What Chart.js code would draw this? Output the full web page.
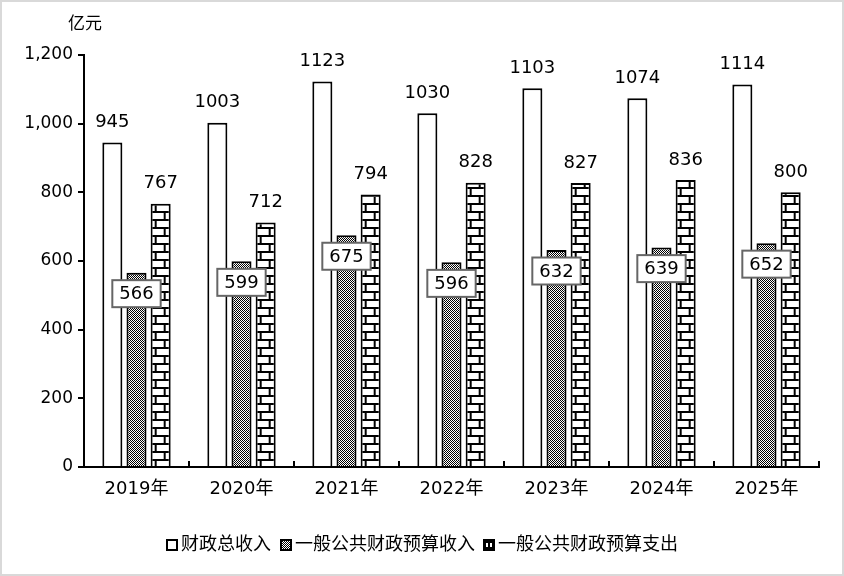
<!DOCTYPE html>
<html>
<head>
<meta charset="utf-8">
<script src="https://cdn.jsdelivr.net/npm/chart.js@4.4.1/dist/chart.umd.min.js"></script>
<style>
  html, body { margin: 0; padding: 0; background: #fff; }
  #wrap { position: relative; width: 844px; height: 576px; }
  #frame { position: absolute; left: 0; top: 0; width: 844px; height: 576px; box-sizing: border-box; border: 2px solid #d9d9d9; pointer-events: none; }
</style>
</head>
<body>
<div id="wrap">
  <canvas id="chart" width="844" height="576"></canvas>
  <div id="frame"></div>
</div>
<script>
// 数据
var categories = ['2019年', '2020年', '2021年', '2022年', '2023年', '2024年', '2025年'];
var totalRevenue = [945, 1003, 1123, 1030, 1103, 1074, 1114];
var budgetRevenue = [566, 599, 675, 596, 632, 639, 652];
var budgetExpenditure = [767, 712, 794, 828, 827, 836, 800];
var seriesNames = ['财政总收入', '一般公共财政预算收入', '一般公共财政预算支出'];
var unitLabel = '亿元';

var FONT = "'DejaVu Sans', 'Noto Sans CJK SC', sans-serif";
var CAT_PCT = 0.69;
var BAR_PCT = 0.83;

var ctx = document.getElementById('chart').getContext('2d');

function checkerPattern() {
    var c = document.createElement('canvas');
    c.width = 2; c.height = 2;
    var g = c.getContext('2d');
    g.fillStyle = '#fff';
    g.fillRect(0, 0, 2, 2);
    g.fillStyle = '#000';
    g.fillRect(0, 0, 1, 1);
    g.fillRect(1, 1, 1, 1);
    return ctx.createPattern(c, 'repeat');
}

function brickTile(w) {
    var c = document.createElement('canvas');
    c.width = w; c.height = 16;
    var g = c.getContext('2d');
    g.fillStyle = '#fff';
    g.fillRect(0, 0, w, 16);
    g.fillStyle = '#000';
    g.fillRect(0, 0, w, 2);
    g.fillRect(0, 8, w, 2);
    g.fillRect(Math.round(w * 0.7) - 1, 2, 2, 6);
    g.fillRect(Math.round(w * 0.25) - 1, 10, 2, 6);
    return c;
}

var checker = checkerPattern();
var brickCache = {};

function brickFor(context) {
    var chart = context.chart;
    var xs = chart.scales && chart.scales.x;
    if (context.dataIndex === undefined || !xs || !xs.width) {
        return ctx.createPattern(brickTile(12), 'repeat');
    }
    var catW = xs.width / categories.length;
    var slot = catW * CAT_PCT / 3;
    var barW = slot * BAR_PCT;
    var center = xs.getPixelForValue(context.dataIndex) + slot;
    var left = center - barW / 2;
    var key = context.dataIndex + ':' + left.toFixed(1);
    if (!brickCache[key]) {
        var p = ctx.createPattern(brickTile(Math.round(barW)), 'repeat');
        var ys = chart.scales.y;
        p.setTransform(new DOMMatrix().translateSelf(left, ys.bottom));
        brickCache[key] = p;
    }
    return brickCache[key];
}

function legendBrick() {
    var c = document.createElement('canvas');
    c.width = 12; c.height = 12;
    var g = c.getContext('2d');
    g.fillStyle = '#000';
    g.fillRect(0, 0, 12, 12);
    g.fillStyle = '#fff';
    g.fillRect(3, 4, 2, 4);
    g.fillRect(7, 4, 2, 4);
    return ctx.createPattern(c, 'no-repeat');
}

var labelPlugin = {
    id: 'labelPlugin',
    afterDraw: function(chart) {
        var g = chart.ctx;
        var xs = chart.scales.x;
        var ys = chart.scales.y;
        g.save();
        // 亿元
        g.fillStyle = '#000';
        g.font = '17px ' + FONT;
        g.textAlign = 'center';
        g.textBaseline = 'middle';
        g.fillText(unitLabel, 85, 25);

        // x axis inward ticks
        g.strokeStyle = '#000';
        g.lineWidth = 2;
        var step = xs.width / categories.length;
        for (var i = 1; i <= categories.length; i++) {
            var px = Math.round(xs.left + i * step);
            g.beginPath();
            g.moveTo(px, ys.bottom);
            g.lineTo(px, ys.bottom - 6);
            g.stroke();
        }

        // value labels
        chart.data.datasets.forEach(function(ds, di) {
            var meta = chart.getDatasetMeta(di);
            meta.data.forEach(function(bar, idx) {
                var txt = String(ds.data[idx]);
                g.font = '18px ' + FONT;
                g.textAlign = 'center';
                g.textBaseline = 'middle';
                if (di === 1) {
                    var cy = bar.y + 21;
                    var tw = g.measureText(txt).width;
                    var bw = tw + 14, bh = 27;
                    g.fillStyle = '#fff';
                    g.fillRect(bar.x - bw / 2, cy - bh / 2, bw, bh);
                    g.strokeStyle = '#666';
                    g.lineWidth = 2;
                    g.strokeRect(bar.x - bw / 2, cy - bh / 2, bw, bh);
                    g.fillStyle = '#000';
                    g.fillText(txt, bar.x, cy + 1);
                } else {
                    g.fillStyle = '#000';
                    g.fillText(txt, bar.x, bar.y - 20);
                }
            });
        });

        // legend
        g.font = '18px ' + FONT;
        g.textAlign = 'left';
        g.textBaseline = 'middle';
        var fills = ['#fff', checker, legendBrick()];
        var widths = seriesNames.map(function(n) { return 15 + g.measureText(n).width; });
        var total = widths.reduce(function(a, b) { return a + b; }, 0) + 9 * (seriesNames.length - 1);
        var lx = 422 - total / 2;
        var ly = 545;
        seriesNames.forEach(function(n, k) {
            var bx = Math.round(lx);
            g.save();
            g.translate(bx, ly - 6);
            g.fillStyle = fills[k];
            g.fillRect(0, 0, 12, 12);
            g.restore();
            g.strokeStyle = '#000';
            g.lineWidth = 2;
            g.strokeRect(bx + 1, ly - 5, 10, 10);
            g.fillStyle = '#000';
            g.fillText(n, bx + 15, ly);
            lx += widths[k] + 9;
        });
        g.restore();
    }
};

var myChart = new Chart(ctx, {
    type: 'bar',
    data: {
        labels: categories,
        datasets: [{
            label: seriesNames[0],
            data: totalRevenue,
            backgroundColor: '#fff',
            borderColor: '#000',
            borderWidth: 2,
            categoryPercentage: CAT_PCT,
            barPercentage: BAR_PCT
        }, {
            label: seriesNames[1],
            data: budgetRevenue,
            backgroundColor: checker,
            borderColor: '#000',
            borderWidth: 2,
            categoryPercentage: CAT_PCT,
            barPercentage: BAR_PCT
        }, {
            label: seriesNames[2],
            data: budgetExpenditure,
            backgroundColor: brickFor,
            borderColor: '#000',
            borderWidth: 2,
            categoryPercentage: CAT_PCT,
            barPercentage: BAR_PCT
        }]
    },
    options: {
        responsive: false,
        animation: false,
        devicePixelRatio: 1,
        layout: { padding: { top: 55, right: 25, bottom: 69, left: 0 } },
        plugins: {
            tooltip: { enabled: false },
            legend: { display: false }
        },
        scales: {
            x: {
                grid: { display: false, drawTicks: false },
                border: { color: '#000', width: 2 },
                ticks: { color: '#000', padding: 12, font: { size: 18, family: FONT } },
                afterFit: function(s) { s.height = 40; }
            },
            y: {
                min: 0,
                max: 1200,
                ticks: {
                    stepSize: 200,
                    color: '#000',
                    padding: 5,
                    font: { size: 17, family: FONT },
                    callback: function(v) { return v.toLocaleString('en-US'); }
                },
                grid: { drawOnChartArea: false, drawTicks: true, tickLength: 6, color: '#000', lineWidth: 2 },
                border: { color: '#000', width: 2 },
                afterFit: function(s) { s.width = 84; }
            }
        }
    },
    plugins: [labelPlugin]
});
</script>
</body>
</html>
